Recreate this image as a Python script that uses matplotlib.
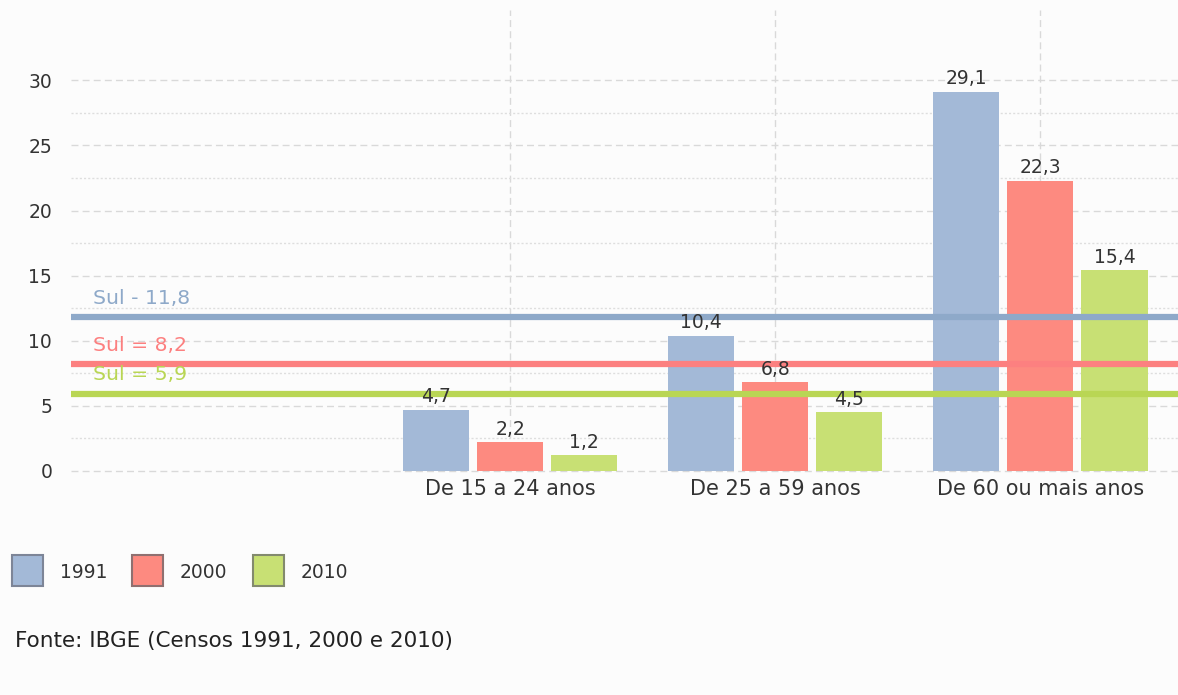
import matplotlib
matplotlib.use("Agg")
import matplotlib.pyplot as plt
from matplotlib.patches import Rectangle
import numpy as np

categories = ["De 15 a 24 anos", "De 25 a 59 anos", "De 60 ou mais anos"]
series_names = ["1991", "2000", "2010"]
values_1991 = [4.7, 10.4, 29.1]
values_2000 = [2.2, 6.8, 22.3]
values_2010 = [1.2, 4.5, 15.4]
ref_labels = ["Sul - 11,8", "Sul = 8,2", "Sul = 5,9"]
ref_values = [11.8, 8.2, 5.9]
source_text = "Fonte: IBGE (Censos 1991, 2000 e 2010)"

bar_colors = ["#a3b9d7", "#fd8a80", "#c8e074"]
edge_colors = ["#7d8597", "#8f7070", "#838a6e"]
line_colors = ["#8ea9c9", "#fc8080", "#b9d654"]
bg = "#fcfcfc"
text_color = "#333333"

plt.rcParams['font.family'] = ['DejaVu Sans']
FS = 13.5

fig = plt.figure(figsize=(11.78, 6.95), dpi=100, facecolor=bg)
ax = fig.add_axes([71/1178, 1-471/695, 1-71/1178, (471-10)/695])
ax.set_facecolor(bg)

x = np.arange(1, len(categories)+1)
w = 0.25
off = 0.28
all_vals = [values_1991, values_2000, values_2010]
for i, vals in enumerate(all_vals):
    xs = x + (i-1)*off
    ax.bar(xs, vals, width=w, color=bar_colors[i], zorder=3)
    for xi, v in zip(xs, vals):
        ax.text(xi, v + 0.6, f"{v:.1f}".replace(".", ","), ha="center", va="baseline",
                fontsize=FS, color=text_color, zorder=5)

for lbl, v, c in zip(ref_labels, ref_values, line_colors):
    ax.axhline(v, color=c, lw=4.5, zorder=4)
    ax.text(-0.574, v + 1.05, lbl, color=c, fontsize=14.7, ha="left", va="baseline", zorder=5)

ax.set_xlim(-0.657, 3.52)
ax.set_ylim(0, 35.4)
ax.set_yticks([0, 5, 10, 15, 20, 25, 30])
ax.set_yticks(np.arange(2.5, 30, 5), minor=True)
ax.set_xticks(x)
ax.set_xticklabels(categories)
ax.tick_params(axis='both', which='both', length=0, labelsize=FS, colors=text_color)
ax.tick_params(axis='x', labelsize=15, pad=6)
ax.tick_params(axis='y', which='major', pad=13.5)
for s in ax.spines.values():
    s.set_visible(False)

ax.grid(axis='y', which='major', color='#d9d9d9', ls=(0, (5, 3)), lw=1, zorder=0)
ax.grid(axis='y', which='minor', color='#dedede', ls=(0, (1.5, 1.5)), lw=1, zorder=0)
ax.grid(axis='x', which='major', color='#d9d9d9', ls=(0, (5, 3)), lw=1, zorder=0)
for gl in ax.get_ygridlines():
    gl.set_clip_on(False)

# legend
for i, (name, c, ec) in enumerate(zip(series_names, bar_colors, edge_colors)):
    x0 = [12, 132, 253][i]
    fig.patches.append(Rectangle((x0/1178, 1-586/695), 31/1178, 31/695,
                                 transform=fig.transFigure, facecolor=c,
                                 edgecolor=ec, lw=1.5))
    fig.text((x0+48)/1178, 1-572/695, name, fontsize=FS, color=text_color,
             va="center", ha="left")

fig.text(15/1178, 1-641/695, source_text, fontsize=15.5, color="#222222",
         va="center", ha="left")

fig.savefig("out.png", dpi=100, facecolor=bg)
